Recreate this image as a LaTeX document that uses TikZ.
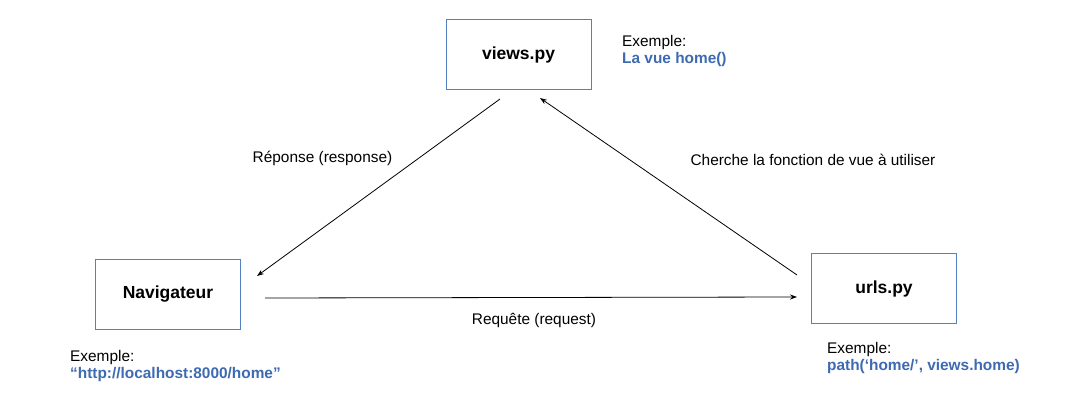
\documentclass[tikz,border=0pt]{standalone}
\usepackage{fontspec}
\setmainfont{Liberation Sans}
\usetikzlibrary{arrows.meta}
\definecolor{boxblue}{RGB}{84,130,192}
\definecolor{txtblue}{RGB}{61,106,176}
\tikzset{
  filebox/.style={draw=boxblue, line width=1pt, minimum width=145pt, minimum height=70pt, inner sep=0pt, font=\fontsize{17.5}{20}\selectfont\bfseries},
  lbl/.style={font=\fontsize{15.4}{18}\selectfont, inner sep=0pt},
  ex/.style={font=\fontsize{15.4}{17.5}\selectfont, inner sep=0pt, align=left, anchor=west},
  conn/.style={line width=0.8pt, -{Stealth[length=7pt,width=5pt]}},
}
\begin{document}
\begin{tikzpicture}[x=1pt,y=-1pt]
\useasboundingbox (0,0) rectangle (1071,401);
\node[filebox] (views) at (518.5,54.5) {views.py};
\node[filebox] (nav) at (168,294) {Navigateur};
\node[filebox] (urls) at (884,288.5) {urls.py};

\node[ex] (exv) at (622,51) {Exemple:\\\textcolor{txtblue}{\bfseries La vue home()}};
\node[ex] (exn) at (70,366) {Exemple:\\\textcolor{txtblue}{\bfseries “http://localhost:8000/home”}};
\node[ex] (exu) at (827,358) {Exemple:\\\textcolor{txtblue}{\bfseries path(‘home/’, views.home)}};

\coordinate (navout) at (265,298);
\coordinate (urlsin) at (797,297);
\coordinate (viewsout) at (500,99);
\coordinate (navin) at (257,276);
\coordinate (urlsout) at (797,275);
\coordinate (viewsin) at (540,98);

\draw[conn] (navout) -- (urlsin);
\draw[conn] (viewsout) -- (navin);
\draw[conn] (urlsout) -- (viewsin);

\node[lbl] (lreq) at (534,320) {Requête (request)};
\node[lbl] (lrep) at (322.5,158) {Réponse (response)};
\node[lbl] (lch) at (813,160) {Cherche la fonction de vue à utiliser};
\end{tikzpicture}
\end{document}
